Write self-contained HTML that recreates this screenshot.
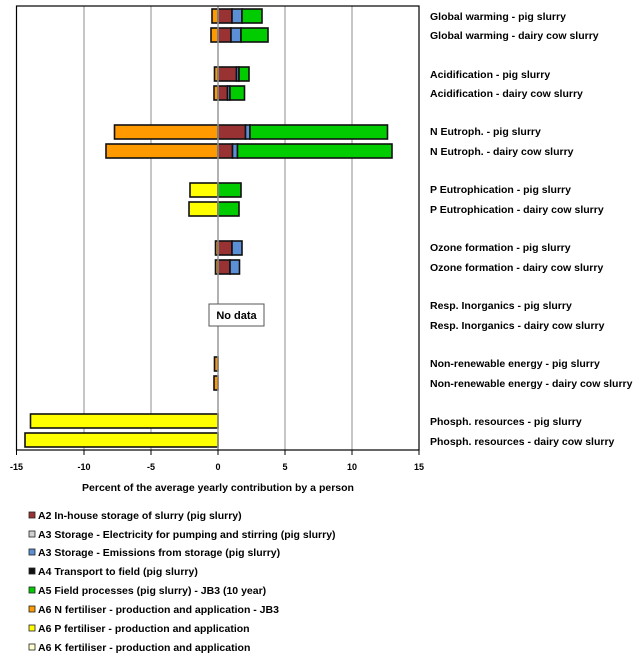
<!DOCTYPE html>
<html><head><meta charset="utf-8"><style>
html,body{margin:0;padding:0;background:#fff}
svg{display:block}
text{font-family:"Liberation Sans",Arial,sans-serif;font-weight:bold;fill:#000}
.b rect{stroke:#111;stroke-width:1.6}
</style></head><body>
<svg width="639" height="658" viewBox="0 0 639 658" xmlns="http://www.w3.org/2000/svg">
<rect x="0" y="0" width="639" height="658" fill="#fff"/>
<g stroke="#a0a0a0" stroke-width="1.2">
<line x1="84" y1="6" x2="84" y2="450"/><line x1="151" y1="6" x2="151" y2="450"/>
<line x1="285" y1="6" x2="285" y2="450"/><line x1="352" y1="6" x2="352" y2="450"/>
</g>
<g class="b">
<!-- Global warming -->
<rect x="212" y="9" width="6" height="14" fill="#ff9900"/><rect x="218" y="9" width="14" height="14" fill="#993333"/><rect x="232" y="9" width="10" height="14" fill="#5b8fd6"/><rect x="242" y="9" width="20" height="14" fill="#00cc00"/>
<rect x="211" y="28" width="7" height="14" fill="#ff9900"/><rect x="218" y="28" width="13" height="14" fill="#993333"/><rect x="231" y="28" width="10" height="14" fill="#5b8fd6"/><rect x="241" y="28" width="27" height="14" fill="#00cc00"/>
<!-- Acid -->
<rect x="214.5" y="67" width="3.5" height="14" fill="#ff9900"/><rect x="218" y="67" width="18.5" height="14" fill="#993333"/><rect x="236.5" y="67" width="2.5" height="14" fill="#5b8fd6"/><rect x="239" y="67" width="10" height="14" fill="#00cc00"/>
<rect x="214" y="86" width="4" height="14" fill="#ff9900"/><rect x="218" y="86" width="9.5" height="14" fill="#993333"/><rect x="227.5" y="86" width="2.5" height="14" fill="#5b8fd6"/><rect x="230" y="86" width="14.5" height="14" fill="#00cc00"/>
<!-- N eutroph -->
<rect x="114.5" y="125" width="103.5" height="14" fill="#ff9900"/><rect x="218" y="125" width="27.5" height="14" fill="#993333"/><rect x="245.5" y="125" width="4.5" height="14" fill="#5b8fd6"/><rect x="250" y="125" width="137.5" height="14" fill="#00cc00"/>
<rect x="106" y="144" width="112" height="14" fill="#ff9900"/><rect x="218" y="144" width="14.5" height="14" fill="#993333"/><rect x="232.5" y="144" width="5" height="14" fill="#5b8fd6"/><rect x="237.5" y="144" width="154.5" height="14" fill="#00cc00"/>
<!-- P eutroph -->
<rect x="190" y="183" width="28" height="14" fill="#ffff00"/><rect x="218" y="183" width="23" height="14" fill="#00cc00"/>
<rect x="189" y="202" width="29" height="14" fill="#ffff00"/><rect x="218" y="202" width="21" height="14" fill="#00cc00"/>
<!-- Ozone -->
<rect x="215.5" y="241" width="2.5" height="14" fill="#ff9900"/><rect x="218" y="241" width="14" height="14" fill="#993333"/><rect x="232" y="241" width="10" height="14" fill="#5b8fd6"/>
<rect x="215.5" y="260" width="2.5" height="14" fill="#ff9900"/><rect x="218" y="260" width="12" height="14" fill="#993333"/><rect x="230" y="260" width="9.5" height="14" fill="#5b8fd6"/>
<!-- Non-renewable -->
<rect x="214.5" y="357" width="3.5" height="14" fill="#ff9900"/>
<rect x="214" y="376" width="4" height="14" fill="#ff9900"/>
<!-- Phosph -->
<rect x="30.5" y="414" width="187.5" height="14" fill="#ffff00"/>
<rect x="25" y="433" width="193" height="14" fill="#ffff00"/>
</g>
<line x1="218" y1="6" x2="218" y2="450" stroke="#999" stroke-width="1.5"/>
<rect x="16.5" y="6" width="402.5" height="444" fill="none" stroke="#000" stroke-width="1.2"/>
<g stroke="#000" stroke-width="1"><line x1="16.5" y1="450" x2="16.5" y2="455"/><line x1="84" y1="450" x2="84" y2="455"/><line x1="151" y1="450" x2="151" y2="455"/><line x1="218" y1="450" x2="218" y2="455"/><line x1="285" y1="450" x2="285" y2="455"/><line x1="352" y1="450" x2="352" y2="455"/><line x1="419" y1="450" x2="419" y2="455"/></g>
<rect x="209" y="304" width="55" height="22" fill="#fff" stroke="#555" stroke-width="1"/>
<text x="236.5" y="319" font-size="11" text-anchor="middle">No data</text>
<g font-size="9" text-anchor="middle">
<text x="16.5" y="470">-15</text><text x="84" y="470">-10</text><text x="151" y="470">-5</text><text x="218" y="470">0</text><text x="285" y="470">5</text><text x="352" y="470">10</text><text x="419" y="470">15</text>
</g>
<text x="218" y="491" font-size="10.5" text-anchor="middle">Percent of the average yearly contribution by a person</text>
<g font-size="10.5">
<text x="430" y="20">Global warming - pig slurry</text>
<text x="430" y="39">Global warming - dairy cow slurry</text>
<text x="430" y="78">Acidification - pig slurry</text>
<text x="430" y="97">Acidification - dairy cow slurry</text>
<text x="430" y="135">N Eutroph. - pig slurry</text>
<text x="430" y="155">N Eutroph. - dairy cow slurry</text>
<text x="430" y="193">P Eutrophication - pig slurry</text>
<text x="430" y="213">P Eutrophication - dairy cow slurry</text>
<text x="430" y="251">Ozone formation - pig slurry</text>
<text x="430" y="271">Ozone formation - dairy cow slurry</text>
<text x="430" y="309">Resp. Inorganics - pig slurry</text>
<text x="430" y="329">Resp. Inorganics - dairy cow slurry</text>
<text x="430" y="367">Non-renewable energy  - pig slurry</text>
<text x="430" y="387">Non-renewable energy - dairy cow slurry</text>
<text x="430" y="425">Phosph. resources - pig slurry</text>
<text x="430" y="445">Phosph. resources - dairy cow slurry</text>
</g>
<g stroke="#222" stroke-width="0.8">
<rect x="29" y="512" width="6" height="6" fill="#993333"/>
<rect x="29" y="531" width="6" height="6" fill="#d0d0d0"/>
<rect x="29" y="549" width="6" height="6" fill="#5b8fd6"/>
<rect x="29" y="568" width="6" height="6" fill="#111"/>
<rect x="29" y="587" width="6" height="6" fill="#00cc00"/>
<rect x="29" y="606" width="6" height="6" fill="#ff9900"/>
<rect x="29" y="625" width="6" height="6" fill="#ffff00"/>
<rect x="29" y="644" width="6" height="6" fill="#ffffcc"/>
</g>
<g font-size="10.5">
<text x="38" y="519">A2 In-house storage of slurry (pig slurry)</text>
<text x="38" y="538">A3 Storage - Electricity for pumping and stirring (pig slurry)</text>
<text x="38" y="556">A3 Storage - Emissions from storage (pig slurry)</text>
<text x="38" y="575">A4 Transport to field (pig slurry)</text>
<text x="38" y="594">A5 Field processes  (pig slurry)  - JB3 (10 year)</text>
<text x="38" y="613">A6 N fertiliser - production and application - JB3</text>
<text x="38" y="632">A6 P fertiliser - production and application</text>
<text x="38" y="651">A6 K fertiliser - production and application</text>
</g>
</svg>
</body></html>
